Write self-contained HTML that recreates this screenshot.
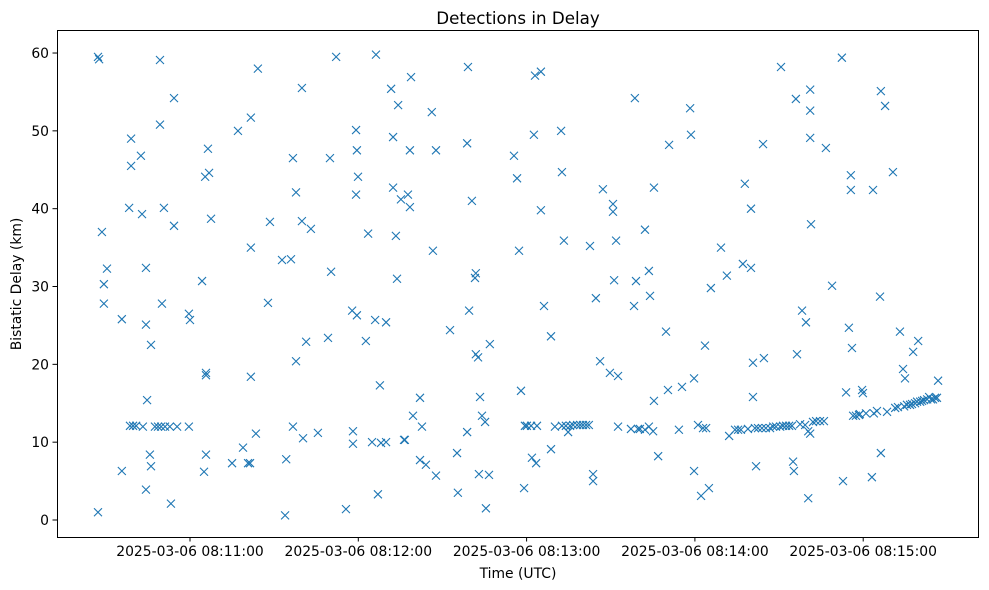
<!DOCTYPE html>
<html><head><meta charset="utf-8">
<style>
html,body{margin:0;padding:0;background:#fff;}
svg{display:block;font-family:"DejaVu Sans","Liberation Sans",sans-serif;}
</style></head>
<body>
<svg id="chart" width="989" height="590" viewBox="0 0 989 590" xmlns="http://www.w3.org/2000/svg">
<rect x="0" y="0" width="989" height="590" fill="#fff"/>
<text x="518" y="24" font-size="16.7" text-anchor="middle" fill="#000">Detections in Delay</text>
<g id="marks"></g>
<g id="axes"></g>
<rect x="57.5" y="30.5" width="921" height="507" fill="none" stroke="#000" stroke-width="1"/>
<text x="518" y="578" font-size="13.9" text-anchor="middle">Time (UTC)</text>
<text transform="translate(21,284) rotate(-90)" font-size="13.9" text-anchor="middle">Bistatic Delay (km)</text>
</svg>
<script>
// seconds after 2025-03-06 08:10:00 UTC
const times = [27.2,27.6,27.2,28.6,29.3,29.3,30.4,35.7,35.7,38.3,38.6,39.0,39.0,39.7,40.8,42.5,42.9,43.2,44.3,44.3,44.7,44.3,45.7,46.1,46.1,47.5,48.6,49.3,49.3,49.7,50.0,50.7,51.1,52.8,53.2,54.3,54.3,55.4,59.6,60.0,59.6,64.3,65.0,65.4,65.7,65.7,65.7,66.4,66.8,67.5,75.0,77.1,78.9,80.7,81.4,81.7,81.7,81.7,83.5,84.2,87.8,88.5,92.8,93.9,94.3,96.0,96.7,96.7,97.8,97.8,99.9,99.9,100.3,101.4,103.1,105.6,109.2,109.9,110.3,112.1,115.6,117.8,118.1,118.1,119.2,119.2,119.5,119.5,119.9,122.7,123.5,124.9,126.0,126.3,127.0,127.7,128.1,129.9,129.9,131.7,132.4,132.4,133.4,133.8,134.2,135.2,136.3,136.6,137.7,138.4,138.4,138.8,139.5,142.0,142.0,142.7,144.1,146.2,146.6,147.7,147.7,152.7,155.2,155.5,158.8,158.8,159.1,159.5,160.5,161.6,161.9,161.9,162.7,163.0,163.4,164.1,165.2,165.5,166.6,166.9,175.5,176.6,177.3,178.0,179.1,179.4,180.1,181.6,181.9,182.6,183.0,183.4,183.7,185.1,185.1,186.2,188.7,188.7,190.1,192.3,192.6,192.6,193.3,194.0,194.8,195.5,196.6,198.0,199.1,200.1,201.2,202.2,202.6,203.7,203.7,204.7,206.2,207.2,209.7,210.8,210.8,211.2,211.9,212.6,212.6,217.2,218.3,218.6,219.0,219.7,220.4,222.2,222.2,223.6,223.6,224.0,225.1,225.4,225.4,226.9,229.7,230.8,230.4,234.3,235.4,238.3,238.6,239.7,239.7,241.1,242.2,242.9,243.6,244.0,245.0,245.7,249.3,251.4,252.2,254.3,255.4,256.4,257.1,257.8,258.9,260.0,260.0,260.7,260.7,261.4,261.8,262.5,263.9,264.3,264.6,265.3,266.8,267.9,268.9,270.4,270.7,271.4,272.5,273.6,274.6,275.0,275.3,276.0,276.4,277.5,278.2,279.3,279.6,280.4,280.4,281.1,281.1,281.1,281.1,281.4,282.1,283.2,284.6,286.0,286.7,288.9,292.4,292.8,293.9,294.9,295.6,295.6,296.0,296.4,297.4,298.5,298.8,299.6,299.9,301.0,303.1,303.5,303.8,304.9,306.0,306.3,306.3,307.8,308.5,310.6,311.4,312.4,313.1,314.2,314.6,314.9,315.6,316.7,317.4,317.8,318.5,319.2,319.6,320.3,321.0,321.7,322.8,323.5,324.2,324.9,325.6,326.3,326.7];
const delays = [59.5,59.2,1.0,37.0,30.3,27.8,32.3,25.8,6.3,40.1,12.1,49.0,45.5,12.1,12.1,46.8,39.3,12.0,32.4,25.1,15.4,3.9,8.4,22.5,6.9,12.0,12.0,50.8,59.1,12.0,27.8,40.1,12.0,12.0,2.1,37.8,54.2,12.0,26.5,25.7,12.0,30.7,6.2,44.1,18.9,18.6,8.4,47.7,44.6,38.7,7.3,50.0,9.3,7.3,7.3,51.7,35.0,18.4,11.1,58.0,27.9,38.3,33.4,0.6,7.8,33.5,46.5,12.0,42.1,20.4,55.5,38.4,10.5,22.9,37.4,11.2,23.4,46.5,31.9,59.5,1.4,26.9,11.4,9.8,41.8,50.1,47.5,26.3,44.1,23.0,36.8,10.0,25.7,59.8,3.3,17.3,9.9,25.4,10.0,55.4,42.7,49.2,36.5,31.0,53.3,41.2,10.3,10.3,41.8,47.5,40.2,56.9,13.4,7.7,15.7,12.0,7.1,52.4,34.6,5.7,47.5,24.4,8.6,3.5,11.3,48.4,58.2,26.9,41.0,31.1,31.7,21.3,20.9,5.9,15.8,13.4,12.6,1.5,5.8,22.6,46.8,43.9,34.6,16.6,4.1,12.1,12.1,12.1,8.0,49.5,57.1,7.3,12.1,39.8,57.6,27.5,9.1,23.6,12.0,50.0,44.7,12.1,35.9,12.1,11.3,12.1,12.2,12.2,12.2,12.2,12.2,12.2,35.2,5.9,5.0,28.5,20.4,42.5,18.9,40.6,39.6,30.8,35.9,18.5,12.0,11.7,27.5,54.2,30.7,11.7,11.7,37.3,11.6,12.0,32.0,28.8,11.4,15.3,42.7,8.2,24.2,48.2,16.7,11.6,17.1,52.9,49.5,18.2,6.3,12.2,3.1,11.8,22.4,11.8,4.1,29.8,35.0,31.4,10.8,11.6,11.6,11.6,32.9,43.2,11.7,40.0,32.4,15.8,20.2,11.8,6.9,11.8,11.8,48.3,20.8,11.8,11.8,12.0,12.0,12.0,58.2,12.1,12.1,12.1,12.1,7.5,6.3,54.1,21.3,12.3,26.9,12.2,25.4,11.4,2.8,11.1,55.3,52.6,49.1,38.0,12.6,12.7,12.7,12.7,47.8,30.1,59.4,5.0,16.4,24.7,44.3,42.4,22.1,13.4,13.4,13.5,13.6,16.7,16.3,13.7,5.5,42.4,13.7,14.0,28.7,55.1,8.6,53.2,13.9,44.7,14.4,14.5,24.2,19.4,14.6,18.2,14.8,14.8,14.9,21.6,15.0,15.2,23.0,15.2,15.3,15.4,15.5,15.8,15.5,15.5,15.7,15.7,17.9];
const xTickSeconds = [60,120,180,240,300];
const xTickLabels = ["2025-03-06 08:11:00","2025-03-06 08:12:00","2025-03-06 08:13:00","2025-03-06 08:14:00","2025-03-06 08:15:00"];
const yTicks = [0,10,20,30,40,50,60];

const NS = "http://www.w3.org/2000/svg";
function xScale(t){ return 190 + (t - 60) * 2.805; }
function yScale(v){ return 520 - v * 7.783; }

const axes = document.getElementById('axes');
const marks = document.getElementById('marks');

xTickSeconds.forEach((t, i) => {
  const x = xScale(t);
  const tk = document.createElementNS(NS, 'line');
  tk.setAttribute('x1', x); tk.setAttribute('x2', x);
  tk.setAttribute('y1', 537); tk.setAttribute('y2', 541.5);
  tk.setAttribute('stroke', '#000');
  
  
  axes.appendChild(tk);
  const lb = document.createElementNS(NS, 'text');
  lb.setAttribute('x', x); lb.setAttribute('y', 556);
  lb.setAttribute('font-size', '13.9'); lb.setAttribute('text-anchor', 'middle');
  lb.textContent = xTickLabels[i];
  
  
  axes.appendChild(lb);
});

yTicks.forEach(v => {
  const y = yScale(v);
  const tk = document.createElementNS(NS, 'line');
  tk.setAttribute('x1', 52.5); tk.setAttribute('x2', 57);
  tk.setAttribute('y1', y); tk.setAttribute('y2', y);
  tk.setAttribute('stroke', '#000');
  
  
  axes.appendChild(tk);
  const lb = document.createElementNS(NS, 'text');
  lb.setAttribute('x', 49); lb.setAttribute('y', y + 5);
  lb.setAttribute('font-size', '13.9'); lb.setAttribute('text-anchor', 'end');
  lb.textContent = String(v);
  
  
  axes.appendChild(lb);
});

const s = 4;
times.forEach((t, i) => {
  const x = xScale(t), y = yScale(delays[i]);
  const p = document.createElementNS(NS, 'path');
  p.setAttribute('d', `M${x-s},${y-s}L${x+s},${y+s}M${x-s},${y+s}L${x+s},${y-s}`);
  p.setAttribute('stroke', '#1f77b4');
  p.setAttribute('stroke-width', '1.1');
  p.setAttribute('fill', 'none');
  
  
  marks.appendChild(p);
});
</script>
</body></html>
